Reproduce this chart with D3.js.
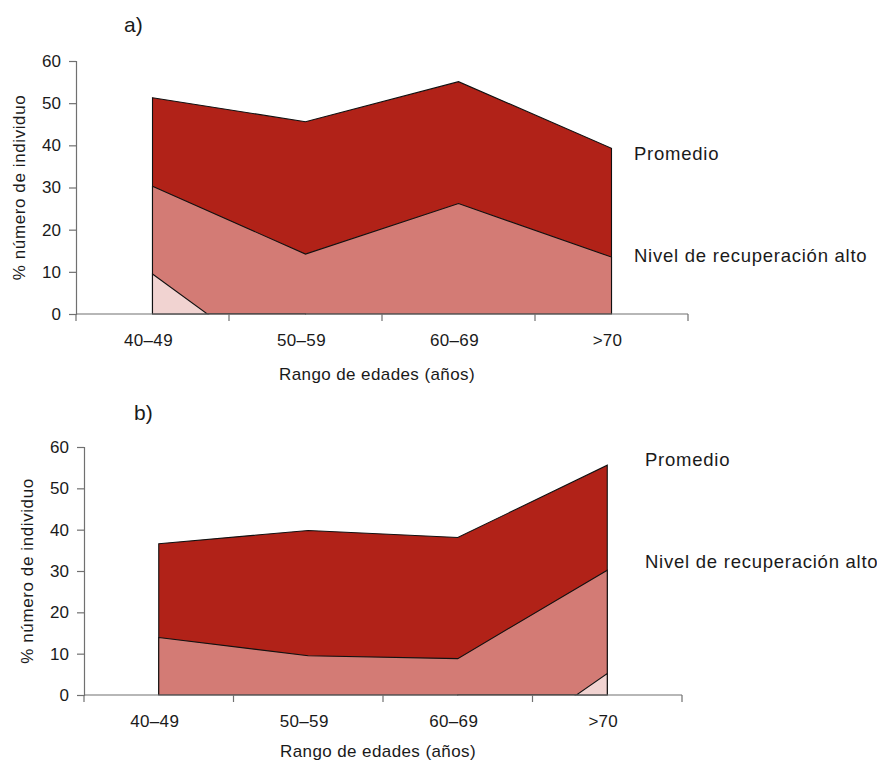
<!DOCTYPE html>
<html>
<head>
<meta charset="utf-8">
<script src="https://cdn.jsdelivr.net/npm/d3@7"></script>
<style>
  body { margin: 0; background: #fff; }
  text { font-family: "Liberation Sans", Arial, Helvetica, sans-serif; fill: #1a1a1a; }
</style>
</head>
<body>
<svg width="877" height="763"></svg>
<script>
// categories / ticks
var ageGroups = ["40\u201349", "50\u201359", "60\u201369", ">70"];
var yTicks = [0, 10, 20, 30, 40, 50, 60];
var seriesNames = ["Promedio", "Nivel de recuperación alto", "Nivel de recuperación bajo"];

// panel a) values (% of individuals)
var promedioA = [51.3, 45.6, 55.1, 39.3];
var altoA = [30.3, 14.2, 26.2, 13.5];
var bajoA = [9.5, -17, null, null];

// panel b) values
var promedioB = [36.6, 39.8, 38.1, 55.6];
var altoB = [13.9, 9.5, 8.8, 30.2];
var bajoB = [null, null, -20, 5.2];

var colors = ["#b12218", "#d37b75", "#f1d3d1"];

var svg = d3.select("svg");

var drawPanel = function(cfg){
    var g = svg.append("g");
    var x = d3.scaleBand().domain(ageGroups).range([cfg.left, cfg.right]);
    var y = d3.scaleLinear().domain([0, 60]).range([cfg.bottom, cfg.top]);
    var bw = x.bandwidth();

    // clip so that parts of a series below 0 are hidden
    g.append("clipPath").attr("id", cfg.id + "clip")
      .append("rect")
        .attr("x", cfg.left).attr("y", cfg.top - 5)
        .attr("width", cfg.right - cfg.left)
        .attr("height", cfg.bottom - cfg.top + 5.6);

    var area = d3.area()
        .defined(function(d){ return d != null; })
        .x(function(d, i){ return x(ageGroups[i]) + bw / 2; })
        .y0(y(0))
        .y1(function(d){ return y(d); });

    var plot = g.append("g").attr("clip-path", "url(#" + cfg.id + "clip)");
    cfg.series.forEach(function(s, i){
        plot.append("path")
            .datum(s)
            .attr("d", area)
            .attr("fill", colors[i])
            .attr("stroke", "#111")
            .attr("stroke-width", 1.1)
            .attr("stroke-linejoin", "miter");
    });

    // y axis
    var yAxis = d3.axisLeft(y).tickValues(yTicks).tickSize(7).tickPadding(8);
    var ya = g.append("g").attr("transform", "translate(" + cfg.left + ",0)").call(yAxis);
    ya.selectAll("path, line").attr("stroke", "#707070").attr("stroke-width", 1.2);
    ya.selectAll("text").attr("font-size", "17px").attr("fill", "#1a1a1a")
      .attr("font-family", "Liberation Sans, Arial, sans-serif");

    // x axis: line + ticks at band edges, labels at band centres
    var xa = g.append("g");
    xa.append("line")
        .attr("x1", cfg.left).attr("x2", cfg.right)
        .attr("y1", y(0)).attr("y2", y(0))
        .attr("stroke", "#707070").attr("stroke-width", 1.2);
    var edges = ageGroups.map(function(c){ return x(c); }).concat([cfg.right]);
    xa.selectAll(".tk").data(edges).enter().append("line")
        .attr("x1", function(d){ return d; }).attr("x2", function(d){ return d; })
        .attr("y1", y(0)).attr("y2", y(0) + 7)
        .attr("stroke", "#707070").attr("stroke-width", 1.2);
    xa.selectAll(".lb").data(ageGroups).enter().append("text")
        .attr("x", function(d){ return x(d) + bw / 2 - 4; })
        .attr("y", y(0) + 32)
        .attr("text-anchor", "middle")
        .attr("font-size", "17px")
        .attr("letter-spacing", "0.3px")
        .text(function(d){ return d; });

    // axis titles
    g.append("text")
        .attr("x", cfg.xTitleX).attr("y", cfg.xTitleY)
        .attr("text-anchor", "middle")
        .attr("font-size", "17px")
        .attr("letter-spacing", "0.4px")
        .text("Rango de edades (años)");
    g.append("text")
        .attr("transform", "translate(" + cfg.yTitleX + "," + ((cfg.top + cfg.bottom) / 2) + ") rotate(-90)")
        .attr("text-anchor", "middle")
        .attr("font-size", "17px")
        .attr("letter-spacing", "0.6px")
        .text("% número de individuo");

    // panel letter
    g.append("text")
        .attr("x", cfg.letterX).attr("y", cfg.letterY)
        .attr("font-size", "21px")
        .text(cfg.letter);

    // series labels
    g.append("text").attr("x", cfg.labelX).attr("y", cfg.label1Y)
        .attr("font-size", "18.5px").attr("letter-spacing", "0.75px")
        .text(seriesNames[0]);
    g.append("text").attr("x", cfg.labelX).attr("y", cfg.label2Y)
        .attr("font-size", "18.5px").attr("letter-spacing", "0.75px")
        .text(seriesNames[1]);
}

drawPanel({
    id: "a", letter: "a)", letterX: 124, letterY: 32,
    left: 76, right: 688, top: 61, bottom: 314,
    series: [promedioA, altoA, bajoA],
    xTitleX: 377, xTitleY: 380, yTitleX: 25,
    labelX: 634, label1Y: 160, label2Y: 262
});

drawPanel({
    id: "b", letter: "b)", letterX: 134, letterY: 420,
    left: 84, right: 682, top: 447, bottom: 695,
    series: [promedioB, altoB, bajoB],
    xTitleX: 378, xTitleY: 757, yTitleX: 33,
    labelX: 645, label1Y: 466, label2Y: 568
});
</script>
</body>
</html>
